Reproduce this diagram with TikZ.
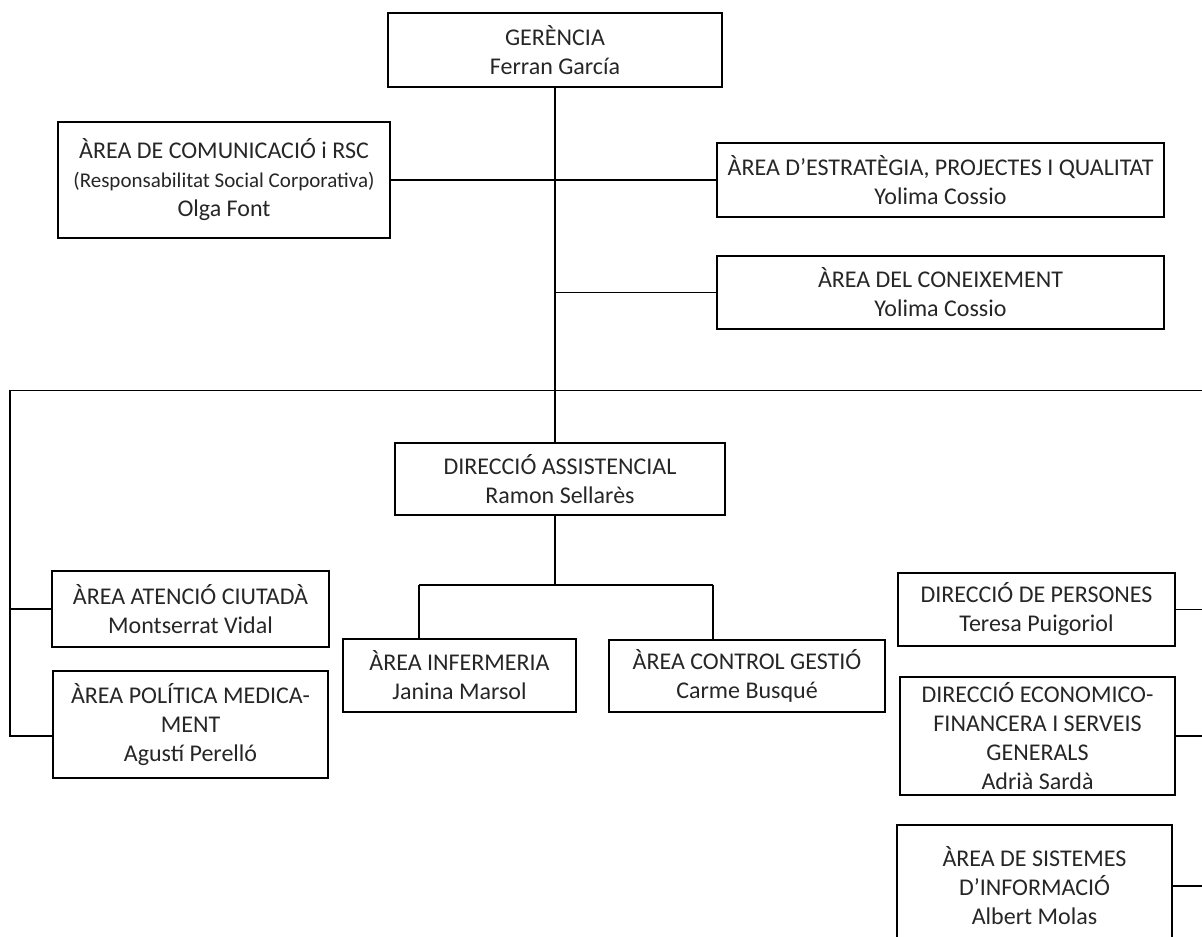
\documentclass[tikz,border=0pt]{standalone}
\usepackage{fontspec}
\setmainfont{Carlito}
\usepackage{tikz}
\usetikzlibrary{positioning,calc}
\tikzset{
  orgbox/.style 2 args={draw, line width=1pt, inner sep=0pt, align=center,
    minimum width=#1*0.5pt, minimum height=#2*0.5pt, text=black!85,
    font=\fontsize{12}{14.5}\selectfont},
  link/.style={draw, line width=0.55pt}
}

\begin{document}
\begin{tikzpicture}[x=0.5pt,y=-0.5pt]
\clip (0,0) rectangle (1202,936);
%\draw[help lines] (0,0) rectangle (1202,936);
\node[orgbox={334}{74}] (ger) at (555,50) {GERÈNCIA\\Ferran García};
\node[orgbox={332}{116}] (com) at (224,180) {ÀREA DE COMUNICACIÓ i RSC\\{\fontsize{10.5}{12}\selectfont (Responsabilitat Social Corporativa)}\\Olga Font};
\node[orgbox={447}{74}] (est) at (940.5,180) {ÀREA D’ESTRATÈGIA, PROJECTES I QUALITAT\\Yolima Cossio};
\node[orgbox={447}{73}] (con) at (940.5,292.5) {ÀREA DEL CONEIXEMENT\\Yolima Cossio};
\node[orgbox={330}{72}] (dass) at (560,479) {DIRECCIÓ ASSISTENCIAL\\Ramon Sellarès};
\node[orgbox={277}{76}] (aten) at (190.5,609) {ÀREA ATENCIÓ CIUTADÀ\\Montserrat Vidal};
\node[orgbox={275}{107}] (pol) at (190.5,724.5) {ÀREA POLÍTICA MEDICA-\\MENT\\Agustí Perelló};
\node[orgbox={233}{73}] (inf) at (459.5,675.5) {ÀREA INFERMERIA\\Janina Marsol};
\node[orgbox={276}{72}] (ctrl) at (747,676) {ÀREA CONTROL GESTIÓ\\Carme Busqué};
\node[orgbox={277}{73}] (pers) at (1036.5,609.5) {DIRECCIÓ DE PERSONES\\Teresa Puigoriol};
\node[orgbox={275}{118}] (eco) at (1037.5,736) {DIRECCIÓ ECONOMICO-\\FINANCERA I SERVEIS\\GENERALS\\Adrià Sardà};
\node[orgbox={275}{122}] (sis) at (1034.5,886) {ÀREA DE SISTEMES\\D’INFORMACIÓ\\Albert Molas};
\coordinate (lbus) at (10,390.5);
\coordinate (rbus) at (1202,390.5);
\coordinate (lpol) at (10,736);
\coordinate (dbus) at (555,585);
\coordinate (ibus) at (419,585);
\coordinate (cbus) at (713,585);
% top
\draw[link] (ger.south) -- (ger.south |- dass.north);
\draw[link] (com.east) -- (est.west);
\draw[link] (ger.south |- con.west) -- (con.west);
% long bus
\draw[link] (rbus) -- (lbus) -- (lpol) -- (pol.west |- lpol);
\draw[link] (lbus |- aten.west) -- (aten.west);
\draw[link] (pers.east) -- (pers.east -| rbus);
\draw[link] (eco.east) -- (eco.east -| rbus);
\draw[link] (sis.east) -- (sis.east -| rbus);
% under assistencial
\draw[link] (ger.south |- dass.south) -- (dbus);
\draw[link] (ibus) -- (cbus);
\draw[link] (ibus) -- (ibus |- inf.north);
\draw[link] (cbus) -- (cbus |- ctrl.north);
\end{tikzpicture}
\end{document}
